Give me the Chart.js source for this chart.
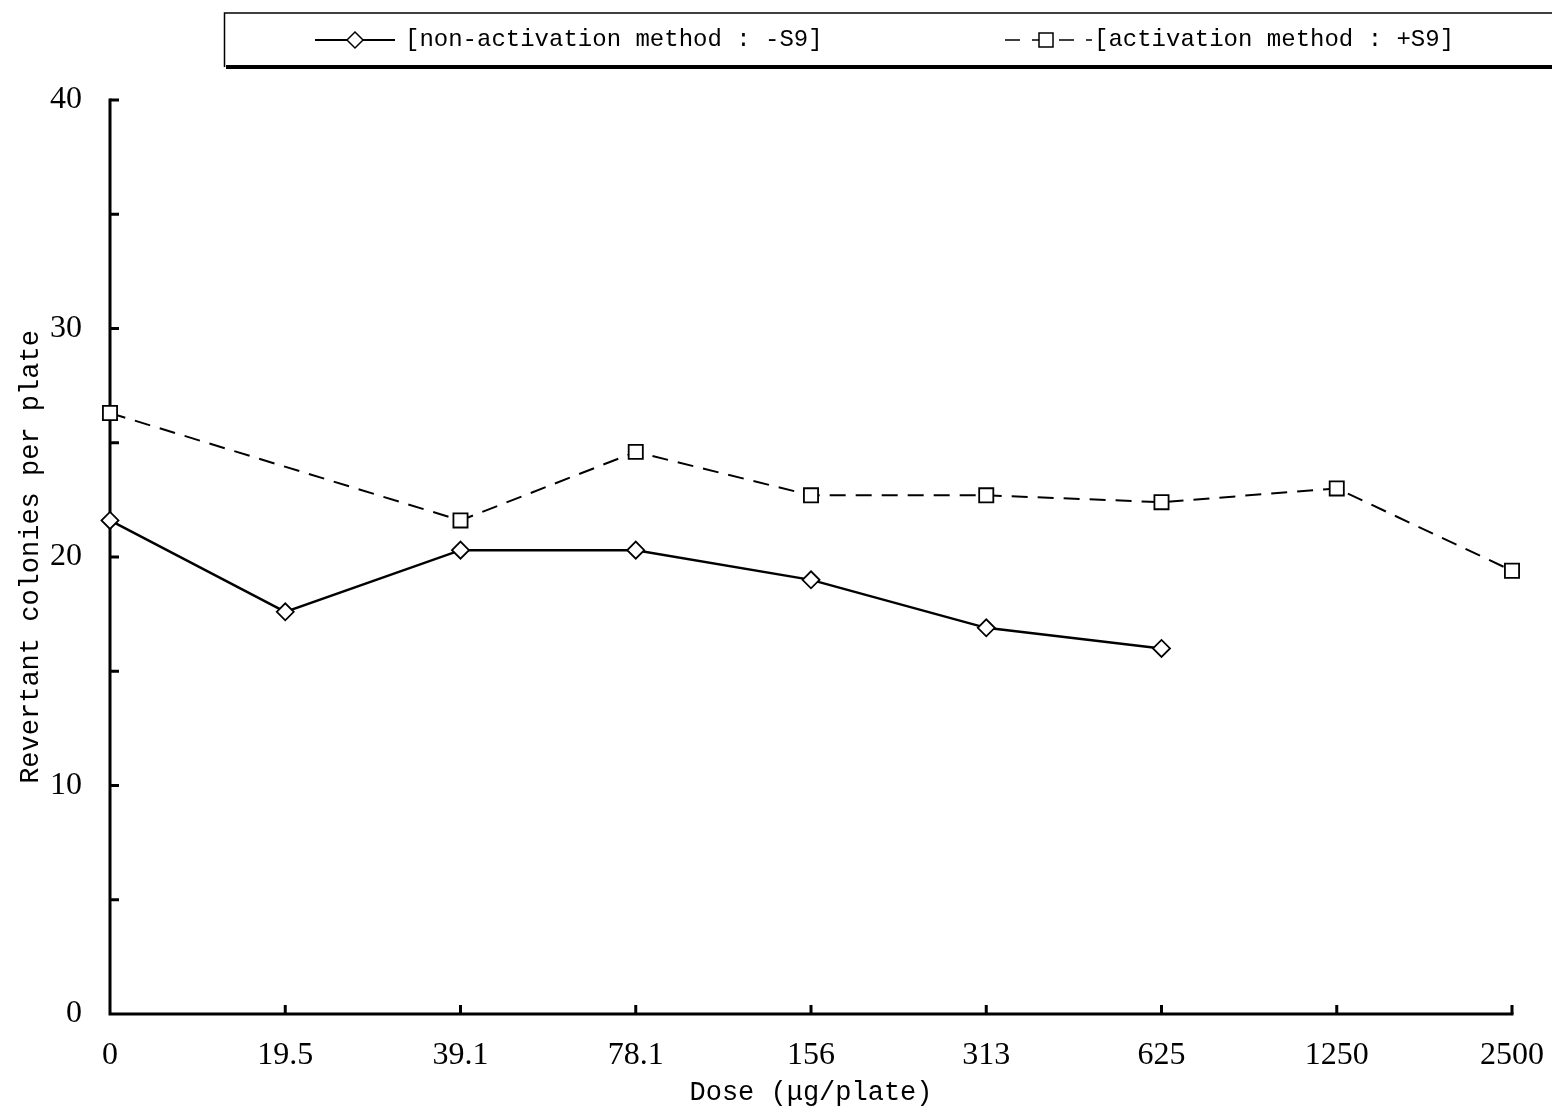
<!DOCTYPE html>
<html>
<head>
<meta charset="utf-8">
<script src="https://cdn.jsdelivr.net/npm/chart.js@4/dist/chart.umd.min.js"></script>
<style>
  html, body { margin: 0; padding: 0; background: #fff; }
  #wrap { width: 1552px; height: 1110px; }
</style>
</head>
<body>
<div id="wrap"><canvas id="chart" width="1552" height="1110"></canvas></div>
<script>
const doses = ["0", "19.5", "39.1", "78.1", "156", "313", "625", "1250", "2500"];
const minusS9 = [21.6, 17.6, 20.3, 20.3, 19.0, 16.9, 16.0, null, null];
const plusS9 = [26.3, null, 21.6, 24.6, 22.7, 22.7, 22.4, 23.0, 19.4];
const yTicks = [0, 10, 20, 30, 40];

const labelMinus = "[non-activation method : -S9]";
const labelPlus = "[activation method : +S9]";

const serif = "'Liberation Serif', serif";
const mono = "'Liberation Mono', monospace";

// axes with inward ticks + boxed legend, drawn on top of the chart area
const framePlugin = {
  id: "frame",
  beforeDatasetsDraw(chart) {
    const ctx = chart.ctx;
    const x = chart.scales.x;
    const y = chart.scales.y;
    const left = x.getPixelForValue(0);
    const right = x.getPixelForValue(doses.length - 1);
    const top = y.getPixelForValue(40);
    const bottom = y.getPixelForValue(0);
    ctx.save();
    ctx.strokeStyle = "#000";
    ctx.lineWidth = 3;
    ctx.lineCap = "square";
    ctx.beginPath();
    ctx.moveTo(left, top);
    ctx.lineTo(left, bottom);
    ctx.lineTo(right, bottom);
    ctx.stroke();
    ctx.lineCap = "butt";
    ctx.beginPath();
    for (let v = 5; v <= 40; v += 5) {
      const py = y.getPixelForValue(v);
      ctx.moveTo(left, py);
      ctx.lineTo(left + 9, py);
    }
    for (let i = 1; i < doses.length; i++) {
      const px = x.getPixelForValue(i);
      ctx.moveTo(px, bottom);
      ctx.lineTo(px, bottom - 9);
    }
    ctx.stroke();
    ctx.restore();
  },
  afterDraw(chart) {
    const ctx = chart.ctx;
    ctx.save();
    // legend box
    ctx.fillStyle = "#fff";
    ctx.fillRect(224, 12, 1340, 55);
    ctx.strokeStyle = "#000";
    ctx.lineWidth = 1.5;
    ctx.beginPath();
    ctx.moveTo(1560, 13);
    ctx.lineTo(224.5, 13);
    ctx.lineTo(224.5, 67);
    ctx.stroke();
    ctx.lineWidth = 4;
    ctx.beginPath();
    ctx.moveTo(226, 67);
    ctx.lineTo(1560, 67);
    ctx.stroke();

    const cy = 40;
    // -S9 sample
    ctx.lineWidth = 2;
    ctx.beginPath();
    ctx.moveTo(315, cy);
    ctx.lineTo(395, cy);
    ctx.stroke();
    drawDiamond(ctx, 355, cy, 8);
    // +S9 sample
    ctx.setLineDash([15, 12]);
    ctx.beginPath();
    ctx.moveTo(1005, cy);
    ctx.lineTo(1092, cy);
    ctx.stroke();
    ctx.setLineDash([]);
    drawSquare(ctx, 1046, cy, 7);

    ctx.fillStyle = "#000";
    ctx.font = "24px " + mono;
    ctx.textBaseline = "middle";
    ctx.textAlign = "left";
    ctx.fillText(labelMinus, 405, cy);
    ctx.fillText(labelPlus, 1094, cy);
    ctx.restore();
  }
};

function drawDiamond(ctx, x, y, r) {
  ctx.beginPath();
  ctx.moveTo(x, y - r);
  ctx.lineTo(x + r, y);
  ctx.lineTo(x, y + r);
  ctx.lineTo(x - r, y);
  ctx.closePath();
  ctx.fillStyle = "#fff";
  ctx.fill();
  ctx.lineWidth = 1.5;
  ctx.stroke();
}

function drawSquare(ctx, x, y, h) {
  ctx.fillStyle = "#fff";
  ctx.fillRect(x - h, y - h, 2 * h, 2 * h);
  ctx.lineWidth = 1.5;
  ctx.strokeRect(x - h, y - h, 2 * h, 2 * h);
}

new Chart(document.getElementById("chart").getContext("2d"), {
  type: "line",
  data: {
    labels: doses,
    datasets: [
      {
        label: labelMinus,
        data: minusS9,
        borderColor: "#000",
        borderWidth: 2.5,
        pointStyle: "rectRot",
        pointRadius: 8.5,
        pointBorderWidth: 1.8,
        pointBackgroundColor: "#fff",
        pointBorderColor: "#000",
        tension: 0,
        clip: false,
      },
      {
        label: labelPlus,
        data: plusS9,
        borderColor: "#000",
        borderWidth: 2,
        borderDash: [16, 10],
        pointStyle: "rect",
        pointRadius: 10,
        pointBorderWidth: 1.8,
        pointBackgroundColor: "#fff",
        pointBorderColor: "#000",
        spanGaps: true,
        tension: 0,
        clip: false,
      },
    ],
  },
  options: {
    responsive: false,
    animation: false,
    layout: {
      padding: { left: 0, top: 100, right: 40, bottom: 0 },
    },
    plugins: {
      legend: { display: false },
      tooltip: { enabled: false },
    },
    scales: {
      x: {
        type: "category",
        offset: false,
        grid: { display: false, drawTicks: false },
        border: { display: false },
        ticks: {
          font: { family: serif, size: 32 },
          color: "#000",
          padding: 22,
          maxRotation: 0,
          autoSkip: false,
        },
        title: {
          display: true,
          text: "Dose (μg/plate)",
          font: { family: mono, size: 27 },
          color: "#000",
          padding: { top: 0, bottom: 1 },
        },
        afterFit: (scale) => {
          scale.height = 96;
          scale.paddingLeft = 0;
          scale.paddingRight = 0;
        },
      },
      y: {
        min: 0,
        max: 40,
        grid: { display: false, drawTicks: false },
        border: { display: false },
        ticks: {
          stepSize: 5,
          font: { family: serif, size: 32 },
          color: "#000",
          padding: 28,
          callback: (value) => (yTicks.includes(value) ? value : ""),
        },
        title: {
          display: true,
          text: "Revertant colonies per plate",
          font: { family: mono, size: 27 },
          color: "#000",
          padding: { top: 15, bottom: 0 },
        },
        afterFit: (scale) => {
          scale.width = 110;
          scale.paddingTop = 0;
          scale.paddingBottom = 0;
        },
      },
    },
  },
  plugins: [framePlugin],
});
</script>
</body>
</html>
